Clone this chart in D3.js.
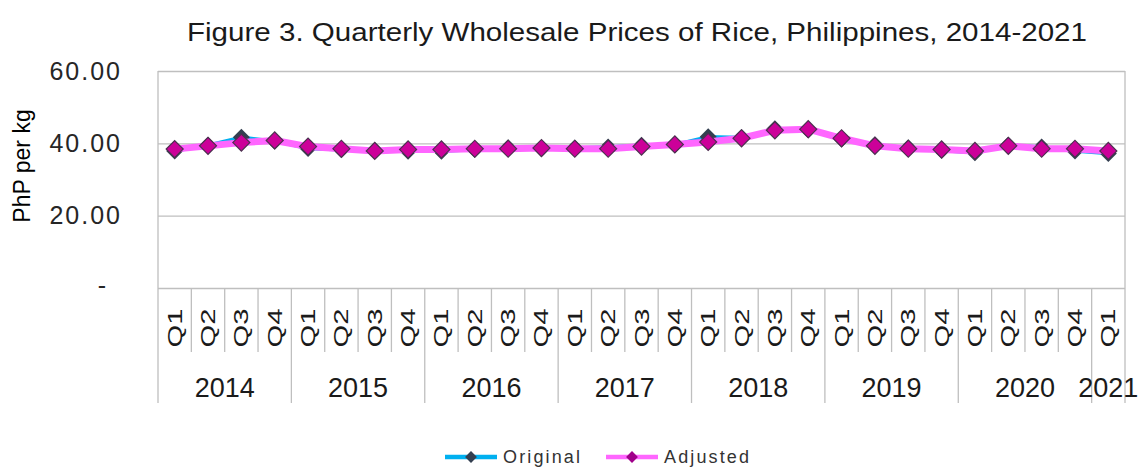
<!DOCTYPE html>
<html>
<head>
<meta charset="utf-8">
<script src="https://cdn.jsdelivr.net/npm/d3@7"></script>
<style>
  body { margin: 0; background: #fff; }
  text { font-family: "Liberation Sans", Arial, sans-serif; }
</style>
</head>
<body>
<div id="chart"></div>
<script>
// data
const years = ["2014", "2015", "2016", "2017", "2018", "2019", "2020", "2021"]
const quartersPerYear = [4, 4, 4, 4, 4, 4, 4, 1]
const quarterNames = ["Q1", "Q2", "Q3", "Q4"]
const original = [37.9, 39.5, 41.7, 40.6, 38.6, 38.2, 38.0, 37.8, 37.8, 38.3, 38.8, 38.6, 38.7, 39.0, 39.5,
    39.6, 41.8, 41.6, 44.0, 43.7, 41.2, 39.6, 38.8, 38.0, 37.4, 39.5, 39.0, 37.9, 37.2]
const adjusted = [38.4, 39.3, 40.2, 40.8, 39.1, 38.5, 37.9, 38.3, 38.3, 38.5, 38.5, 38.7, 38.5, 38.5, 39.1,
    39.7, 40.4, 41.4, 43.6, 43.9, 41.4, 39.3, 38.5, 38.3, 37.9, 39.3, 38.5, 38.5, 37.9]
const yTicks = [0, 20, 40, 60]
const seriesNames = ["Original", "Adjusted"]

const W = 1140, H = 468
const plot = {left: 158, right: 1125, top: 71, bottom: 288}

// build the category list (year + quarter)
const categories = []
years.forEach((yr, i) => {
    for (let q = 0; q < quartersPerYear[i]; q++) {
        categories.push({key: yr + "-" + quarterNames[q], year: yr, q: quarterNames[q], first: q == 0})
    }
})

const svg = d3.select("#chart").append("svg")
    .attr("width", W)
    .attr("height", H)

const x = d3.scaleBand()
    .domain(categories.map(d => d.key))
    .range([plot.left, plot.right])
    .padding(0)

const y = d3.scaleLinear()
    .domain([0, 60])
    .range([plot.bottom, plot.top])

const gridColor = "#bfbfbf"

// gridlines
svg.append("g")
    .attr("transform", `translate(${plot.left},0)`)
    .call(d3.axisLeft(y).tickValues(yTicks).tickSize(-(plot.right - plot.left)).tickFormat(""))
    .call(g => g.select(".domain").remove())
    .selectAll("line")
    .attr("stroke", gridColor)
    .attr("stroke-width", 1.3)

// plot frame left / right
svg.append("line")
    .attr("x1", plot.left).attr("x2", plot.left)
    .attr("y1", plot.top).attr("y2", 403)
    .attr("stroke", gridColor).attr("stroke-width", 1.3)
svg.append("line")
    .attr("x1", plot.right).attr("x2", plot.right)
    .attr("y1", plot.top).attr("y2", 403)
    .attr("stroke", gridColor).attr("stroke-width", 1.3)

// y tick labels
const yAxis = svg.append("g")
    .attr("transform", `translate(${plot.left},0)`)
    .call(d3.axisLeft(y).tickValues(yTicks).tickSize(0).tickPadding(36)
        .tickFormat(d => d == 0 ? "-" : d.toFixed(2)))
yAxis.select(".domain").remove()
yAxis.selectAll("text")
    .attr("font-size", 25)
    .attr("fill", "#262626")
    .style("font-family", "'Liberation Sans', Arial, sans-serif")
    .attr("letter-spacing", 2)
    .attr("x", d => d == 0 ? -50 : -36)
    .attr("dy", d => d == 0 ? "0.2em" : "0.32em")

// y axis title
svg.append("text")
    .attr("transform", "translate(30,166) rotate(-90)")
    .attr("text-anchor", "middle")
    .attr("font-size", 23)
    .attr("fill", "#000")
    .text("PhP per kg")

// category separators
categories.forEach((c, i) => {
    if (i == 0) return
    svg.append("line")
        .attr("x1", x(c.key)).attr("x2", x(c.key))
        .attr("y1", plot.bottom).attr("y2", c.first ? 403 : 352)
        .attr("stroke", gridColor).attr("stroke-width", 1.3)
})

// quarter labels
svg.append("g").selectAll("text")
    .data(categories)
    .enter()
    .append("text")
    .attr("transform", d => `translate(${x(d.key) + x.bandwidth() / 2 + 7},328) rotate(-90)`)
    .attr("text-anchor", "middle")
    .attr("font-size", 21)
    .attr("textLength", 39)
    .attr("lengthAdjust", "spacingAndGlyphs")
    .attr("fill", "#1a1a1a")
    .text(d => d.q)

// year labels
const yearGroups = d3.groups(categories, d => d.year)
svg.append("g").selectAll("text")
    .data(yearGroups)
    .enter()
    .append("text")
    .attr("x", d => (x(d[1][0].key) + x(d[1][d[1].length - 1].key) + x.bandwidth()) / 2)
    .attr("y", 397)
    .attr("text-anchor", "middle")
    .attr("font-size", 27)
    .attr("fill", "#1a1a1a")
    .text(d => d[0])

// lines and markers
const line = d3.line()
    .x((d, i) => x(categories[i].key) + x.bandwidth() / 2)
    .y(d => y(d))

const diamond = d3.symbol(d3.symbolSquare, 145)

svg.append("path")
    .datum(original)
    .attr("d", line)
    .attr("fill", "none")
    .attr("stroke", "#00b0f0")
    .attr("stroke-width", 3.5)

svg.append("g").selectAll("path")
    .data(original)
    .enter()
    .append("path")
    .attr("d", diamond)
    .attr("transform", (d, i) => `translate(${x(categories[i].key) + x.bandwidth() / 2},${y(d)}) rotate(45)`)
    .attr("fill", "#333f50")

svg.append("path")
    .datum(adjusted)
    .attr("d", line)
    .attr("fill", "none")
    .attr("stroke", "#ff66ff")
    .attr("stroke-width", 7)
    .attr("stroke-linejoin", "round")

svg.append("g").selectAll("path")
    .data(adjusted)
    .enter()
    .append("path")
    .attr("d", diamond)
    .attr("transform", (d, i) => `translate(${x(categories[i].key) + x.bandwidth() / 2},${y(d)}) rotate(45)`)
    .attr("fill", "#cc0099")
    .attr("stroke", "#4d3050")
    .attr("stroke-width", 1.2)

// title
svg.append("text")
    .attr("x", 187)
    .attr("y", 41)
    .attr("font-size", 25)
    .attr("textLength", 900)
    .attr("lengthAdjust", "spacingAndGlyphs")
    .attr("fill", "#1a1a1a")
    .text("Figure 3. Quarterly Wholesale Prices of Rice, Philippines,  2014-2021")

// legend
const legendItems = [
    {name: seriesNames[0], x: 445, stroke: "#00b0f0", sw: 4.5, fill: "#333f50", tlen: 77},
    {name: seriesNames[1], x: 606, stroke: "#ff66ff", sw: 4.5, fill: "#a0008a", tlen: 85}
]
const legend = svg.append("g")
legendItems.forEach(item => {
    legend.append("line")
        .attr("x1", item.x).attr("x2", item.x + 52)
        .attr("y1", 457).attr("y2", 457)
        .attr("stroke", item.stroke).attr("stroke-width", item.sw)
    legend.append("path")
        .attr("d", d3.symbol(d3.symbolSquare, 70))
        .attr("transform", `translate(${item.x + 26},457) rotate(45)`)
        .attr("fill", item.fill)
    legend.append("text")
        .attr("x", item.x + 58)
        .attr("y", 463)
        .attr("font-size", 18)
        .attr("textLength", item.tlen)
        .attr("lengthAdjust", "spacing")
        .attr("fill", "#333")
        .text(item.name)
})
</script>
</body>
</html>
